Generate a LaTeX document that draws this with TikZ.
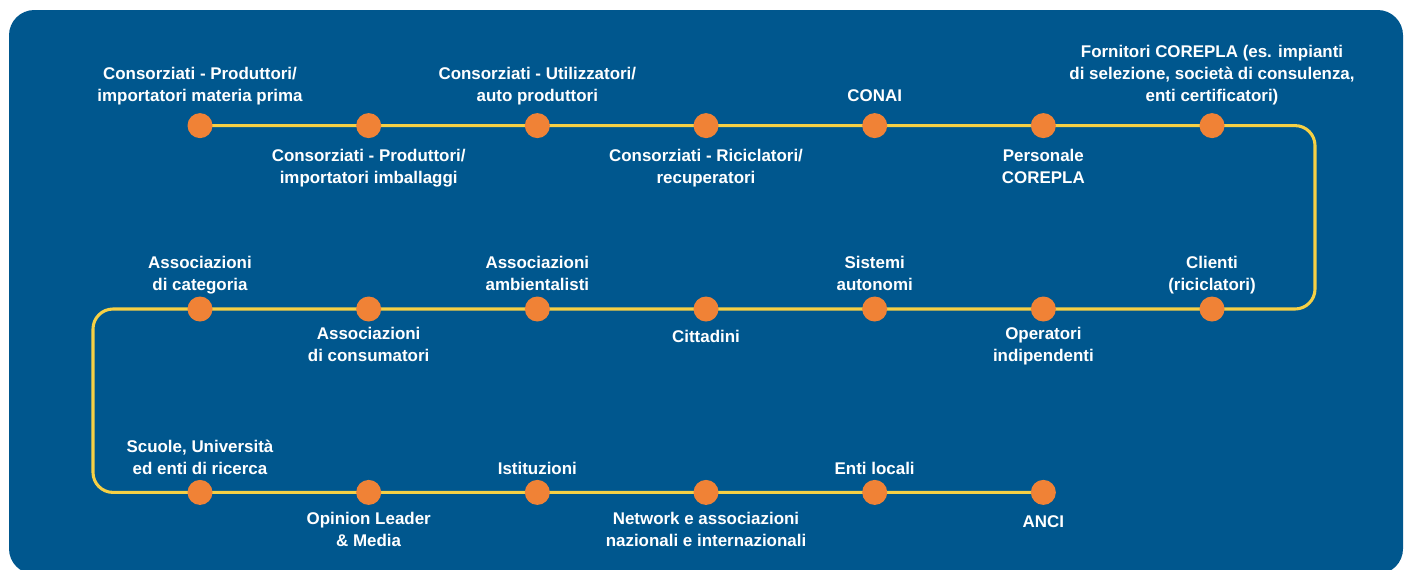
\documentclass[tikz,border=0pt]{standalone}
\usepackage{fontspec}
\setmainfont{Liberation Sans}
\usetikzlibrary{positioning,backgrounds}

\definecolor{PanelBlue}{HTML}{00578E}
\definecolor{DotOrange}{HTML}{F08236}
\definecolor{RouteYellow}{HTML}{F6D045}

\tikzset{
	dot/.style={circle, fill=DotOrange, minimum size=18.75pt, inner sep=0pt},
	route/.style={RouteYellow, line width=2.3pt, rounded corners=15pt},
	tag/.style={font=\bfseries\fontsize{12.7}{16.5}\selectfont, text=white, align=center, inner sep=0pt},
	tagup/.style={tag, above=\UpGap of #1, execute at end node=\strut},
	tagdown/.style={tag, below=\DownGap of #1, execute at begin node=\strut},
}

\begin{document}
\begin{tikzpicture}
	[x=0.75pt, y=-0.75pt]

	\useasboundingbox (0,0) rectangle (1408,569);

	% panel
	\begin{scope}[on background layer]
		\fill[white] (0,0) rectangle (1408,569);
		\fill[PanelBlue, rounded corners=19pt] (9,10) rectangle (1403,574);
	\end{scope}

	% stops
	\begin{scope}
		\newcommand{\Step}{168.67}
		\foreach \i in {1,...,7} {
			\node[dot] (a\i) at ({200+(\i-1)*\Step}, 125.6) {};
			\node[dot] (b\i) at ({200+(\i-1)*\Step}, 309) {};
		}
		\foreach \i in {1,...,6} {
			\node[dot] (c\i) at ({200+(\i-1)*\Step}, 492.4) {};
		}
	\end{scope}

	% route behind the stops
	\coordinate (eastturn) at (1315,0);
	\coordinate (westturn) at (93,0);
	\begin{scope}[on background layer]
		\draw[route] (a1.center) -- (a7.center) -- (a7 -| eastturn) -- (b7 -| eastturn)
			-- (b1 -| westturn) -- (c1 -| westturn) -- (c6.center);
	\end{scope}

	% first row labels
	\begin{scope}
		\newcommand{\UpGap}{3.7pt}
		\newcommand{\DownGap}{8pt}
		\node[tagup=a1] (la1) {Consorziati - Produttori/\\importatori materia prima};
		\node[tagdown=a2] (la2) {Consorziati - Produttori/\\importatori imballaggi};
		\node[tagup=a3] (la3) {Consorziati - Utilizzatori/\\auto produttori};
		\node[tagdown=a4] (la4) {Consorziati - Riciclatori/\\recuperatori};
		\node[tagup=a5] (la5) {CONAI};
		\node[tagdown=a6] (la6) {Personale\\COREPLA};
		\node[tagup=a7] (la7) {Fornitori COREPLA (es. impianti\\di selezione, società di consulenza,\\enti certificatori)};
	\end{scope}

	% second row labels
	\begin{scope}
		\newcommand{\UpGap}{-1.2pt}
		\newcommand{\DownGap}{3.9pt}
		\node[tagup=b1] (lb1) {Associazioni\\di categoria};
		\node[tagdown=b2] (lb2) {Associazioni\\di consumatori};
		\node[tagup=b3] (lb3) {Associazioni\\ambientalisti};
		\node[tagdown=b4] (lb4) {Cittadini};
		\node[tagup=b5] (lb5) {Sistemi\\autonomi};
		\node[tagdown=b6] (lb6) {Operatori\\indipendenti};
		\node[tagup=b7] (lb7) {Clienti\\(riciclatori)};
	\end{scope}

	% third row labels
	\begin{scope}
		\newcommand{\UpGap}{-1.2pt}
		\newcommand{\DownGap}{5.3pt}
		\node[tagup=c1] (lc1) {Scuole, Università\\ed enti di ricerca};
		\node[tagdown=c2] (lc2) {Opinion Leader\\\& Media};
		\node[tagup=c3] (lc3) {Istituzioni};
		\node[tagdown=c4] (lc4) {Network e associazioni\\nazionali e internazionali};
		\node[tagup=c5] (lc5) {Enti locali};
		\node[tagdown=c6] (lc6) {ANCI};
	\end{scope}

\end{tikzpicture}
\end{document}
